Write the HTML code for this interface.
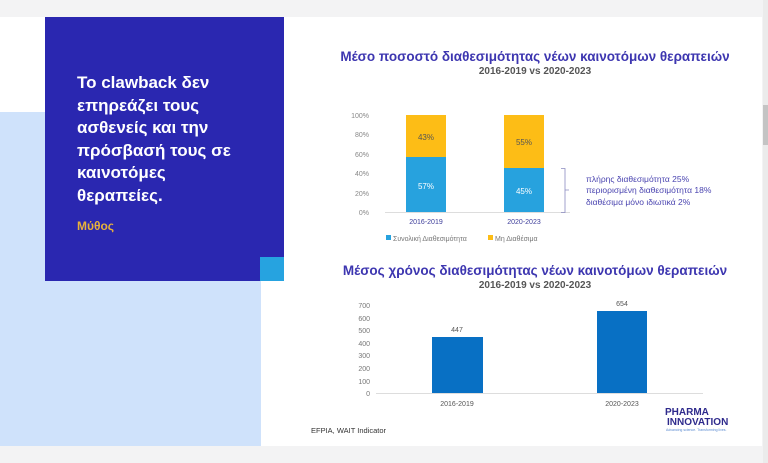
<!DOCTYPE html>
<html><head><meta charset="utf-8"><style>
*{margin:0;padding:0;box-sizing:border-box}
body{width:768px;height:463px;overflow:hidden;background:#f3f3f4;font-family:"Liberation Sans","DejaVu Sans",sans-serif;position:relative}
.a{position:absolute}
.t{position:absolute;white-space:nowrap}
</style></head><body>
<div class="a" style="left:0;top:17px;width:762px;height:429px;background:#fff"></div>
<div class="a" style="left:0;top:112px;width:261px;height:334px;background:#cfe2fb"></div>
<div class="a" style="left:45px;top:17px;width:239px;height:264px;background:#2a27b0"></div>
<div class="a" style="left:260px;top:257px;width:24px;height:24px;background:#26a3e0"></div>
<div class="a" style="left:763px;top:0;width:5px;height:463px;background:#ebebeb"></div>
<div class="a" style="left:763px;top:105px;width:5px;height:40px;background:#c4c4c4"></div>
<div class="t" style="left:77px;top:72px;color:#fff;font-weight:bold;font-size:17px;line-height:22.5px">Το clawback δεν<br>επηρεάζει τους<br>ασθενείς και την<br>πρόσβασή τους σε<br>καινοτόμες<br>θεραπείες.</div>
<div class="t" style="left:77px;top:219px;color:#e8b23a;font-weight:bold;font-size:12px">Μύθος</div>

<div class="t" style="left:337px;top:49px;width:396px;text-align:center;color:#3d36b0;font-weight:bold;font-size:13.5px">Μέσο ποσοστό διαθεσιμότητας νέων καινοτόμων θεραπειών</div>
<div class="t" style="left:337px;top:66px;width:396px;text-align:center;color:#555;font-weight:bold;font-size:10px">2016-2019 vs 2020-2023</div>

<svg class="a" style="left:0;top:0" width="768" height="463">
<g font-family="Liberation Sans, sans-serif" font-size="7" fill="#888" text-anchor="end">
<text x="369" y="118">100%</text><text x="369" y="137">80%</text><text x="369" y="157">60%</text><text x="369" y="176">40%</text><text x="369" y="196">20%</text><text x="369" y="215">0%</text>
</g>
<line x1="385" y1="212.5" x2="570" y2="212.5" stroke="#ddd"/>
<rect x="406" y="115" width="40" height="42" fill="#fdbd16"/>
<rect x="406" y="157" width="40" height="55" fill="#27a2de"/>
<rect x="504" y="115" width="40" height="53" fill="#fdbd16"/>
<rect x="504" y="168" width="40" height="44" fill="#27a2de"/>
<g font-family="Liberation Sans, sans-serif" font-size="8" text-anchor="middle">
<text x="426" y="140" fill="#555">43%</text><text x="426" y="189" fill="#fff">57%</text>
<text x="524" y="145" fill="#555">55%</text><text x="524" y="194" fill="#fff">45%</text>
<text x="426" y="224" fill="#3d3d9a" font-size="7">2016-2019</text><text x="524" y="224" fill="#3d3d9a" font-size="7">2020-2023</text>
</g>
<rect x="386" y="235" width="5" height="5" fill="#27a2de"/>
<text x="393" y="241" font-family="Liberation Sans, sans-serif" font-size="7" fill="#777">Συνολική Διαθεσιμότητα</text>
<rect x="488" y="235" width="5" height="5" fill="#fdbd16"/>
<text x="495" y="241" font-family="Liberation Sans, sans-serif" font-size="7" fill="#777">Μη Διαθέσιμα</text>
<path d="M561 168.5h4v44h-4M565 190h4" fill="none" stroke="#8a8ac0" stroke-width="0.8"/>
<g font-family="Liberation Sans, sans-serif" font-size="8.5" fill="#4a44b0">
<text x="586" y="182">πλήρης διαθεσιμότητα  25%</text>
<text x="586" y="193">περιορισμένη διαθεσιμότητα  18%</text>
<text x="586" y="205">διαθέσιμα μόνο ιδιωτικά   2%</text>
</g>
<g font-family="Liberation Sans, sans-serif" font-size="7" fill="#777" text-anchor="end">
<text x="370" y="308">700</text><text x="370" y="321">600</text><text x="370" y="333">500</text><text x="370" y="346">400</text><text x="370" y="358">300</text><text x="370" y="371">200</text><text x="370" y="384">100</text><text x="370" y="396">0</text>
</g>
<line x1="376" y1="393.5" x2="703" y2="393.5" stroke="#ddd"/>
<rect x="432" y="337" width="51" height="56" fill="#0870c4"/>
<rect x="597" y="311" width="50" height="82" fill="#0870c4"/>
<g font-family="Liberation Sans, sans-serif" font-size="7" fill="#555" text-anchor="middle">
<text x="457" y="332">447</text><text x="622" y="306">654</text>
<text x="457" y="406">2016-2019</text><text x="622" y="406">2020-2023</text>
</g>
<text x="311" y="433" font-family="Liberation Sans, sans-serif" font-size="7.5" fill="#333">EFPIA, WAIT Indicator</text>
<g font-family="Liberation Sans, sans-serif" font-weight="bold" fill="#2e2a8c">
<text x="665" y="415" font-size="10">PHARMA</text>
<text x="667" y="425" font-size="10">INNOVATION</text>
</g>
<text x="666" y="431" font-family="Liberation Sans, sans-serif" font-size="3.5" fill="#5a8ad0">Advancing science. Transforming lives.</text>
</svg>

<div class="t" style="left:337px;top:263px;width:396px;text-align:center;color:#3d36b0;font-weight:bold;font-size:13.5px">Μέσος χρόνος διαθεσιμότητας νέων καινοτόμων θεραπειών</div>
<div class="t" style="left:337px;top:280px;width:396px;text-align:center;color:#555;font-weight:bold;font-size:10px">2016-2019 vs 2020-2023</div>
</body></html>
